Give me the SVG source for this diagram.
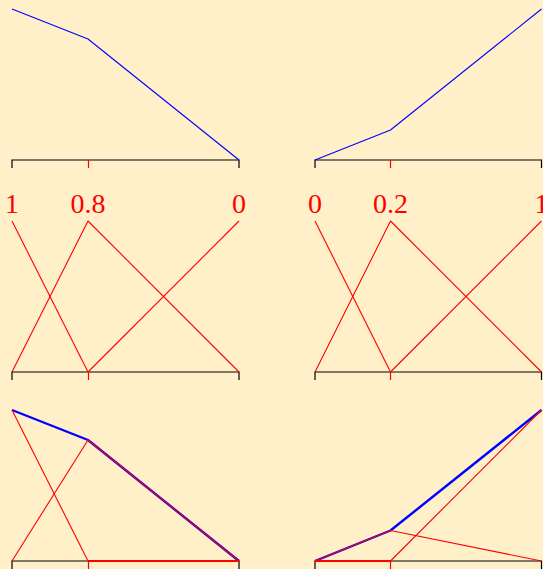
<svg xmlns="http://www.w3.org/2000/svg" width="543" height="569" viewBox="0 0 543 569">
<style>
.ax{stroke:#000;stroke-width:1.2;fill:none}
.rt{stroke:#f00;stroke-width:1.2;fill:none}
.r{stroke:#f00;stroke-width:1.1;fill:none;stroke-linejoin:round}
.b{stroke:#00f;stroke-width:1.1;fill:none;stroke-linejoin:round}
.bb{stroke:#00f;stroke-width:2.4;fill:none;stroke-linejoin:round}
.rf{stroke:#f00;stroke-width:1.8;fill:none}
.lb{font-family:"Liberation Serif","Times New Roman",serif;font-size:28px;fill:#f00;text-anchor:middle}
</style>
<rect width="543" height="569" fill="#FFF0C9"/>
<g id="axes">
<path class="ax" d="M12,168V160H239V168"/>
<path class="rt" d="M88.5,160V168"/>
<path class="ax" d="M315,168V160H541.5V168"/>
<path class="rt" d="M390.5,160V168"/>
<path class="ax" d="M12,380V372H239V380"/>
<path class="rt" d="M88.5,372V380"/>
<path class="ax" d="M315,380V372H541.5V380"/>
<path class="rt" d="M390.5,372V380"/>
<path class="ax" d="M12,569V561H239V569"/>
<path class="rt" d="M88.5,561V569"/>
<path class="ax" d="M315,569V561H541.5V569"/>
<path class="rt" d="M390.5,561V569"/>
</g>
<g id="labels">
<text class="lb" x="12" y="213">1</text>
<text class="lb" x="88" y="213">0.8</text>
<text class="lb" x="239" y="213">0</text>
<text class="lb" x="315" y="213">0</text>
<text class="lb" x="390.5" y="213">0.2</text>
<text class="lb" x="541.5" y="213">1</text>
</g>
<g id="connectors">
<polyline class="b" points="12,9 88,39 239,160"/>
<polyline class="b" points="315,160 390.5,130 541.5,9"/>
<line class="r" x1="12" y1="221" x2="88" y2="372"/>
<polyline class="r" points="12,372 88,221 239,372"/>
<line class="r" x1="88" y1="372" x2="239" y2="221"/>
<line class="r" x1="315" y1="221" x2="390.5" y2="372"/>
<polyline class="r" points="315,372 390.5,221 541.5,372"/>
<line class="r" x1="390.5" y1="372" x2="541.5" y2="221"/>
<polyline class="bb" points="12,410 88,440 239,561"/>
<line class="r" x1="12" y1="410" x2="88" y2="561"/>
<polyline class="r" points="12,561 88,440 239,561"/>
<line class="rf" x1="88" y1="561" x2="239" y2="561"/>
<polyline class="bb" points="315,561 390.5,530.5 541.5,410"/>
<line class="rf" x1="315" y1="561" x2="390.5" y2="561"/>
<polyline class="r" points="315,561 390.5,530.5 541.5,561"/>
<line class="r" x1="390.5" y1="561" x2="541.5" y2="410"/>
</g>
</svg>
